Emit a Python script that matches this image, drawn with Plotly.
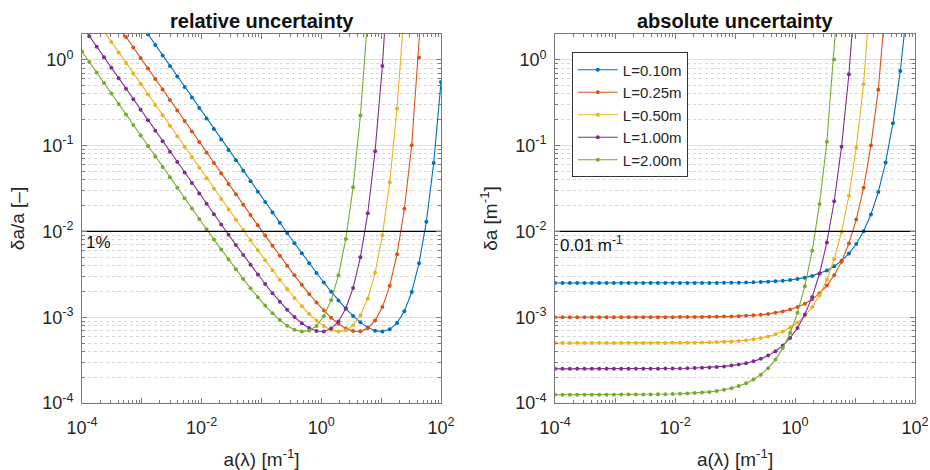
import plotly.graph_objects as go

# absorption coefficient sample grid a(lambda) [1/m]
a_vals = [1.000e-4, 1.326e-4, 1.758e-4, 2.330e-4, 3.089e-4, 4.095e-4, 5.429e-4, 7.197e-4, 9.541e-4, 1.265e-3,
          1.677e-3, 2.223e-3, 2.947e-3, 3.907e-3, 5.180e-3, 6.867e-3, 9.103e-3, 1.207e-2, 1.600e-2, 2.121e-2,
          2.812e-2, 3.728e-2, 4.942e-2, 6.551e-2, 8.685e-2, 0.1151, 0.1526, 0.2024, 0.2683, 0.3556,
          0.4715, 0.6251, 0.8287, 1.099, 1.456, 1.931, 2.560, 3.393, 4.498, 5.964,
          7.906, 10.48, 13.89, 18.42, 24.42, 32.37, 42.92, 56.90, 75.43, 100.0]

series_names = ["L=0.10m", "L=0.25m", "L=0.50m", "L=1.00m", "L=2.00m"]

# absolute uncertainty delta-a [1/m]
da_L010 = [2.500e-3] * 9 + [2.500e-3, 2.500e-3, 2.501e-3, 2.501e-3, 2.501e-3, 2.501e-3, 2.502e-3, 2.502e-3,
           2.503e-3, 2.504e-3, 2.505e-3, 2.507e-3, 2.509e-3, 2.512e-3, 2.516e-3, 2.522e-3, 2.529e-3, 2.538e-3,
           2.551e-3, 2.568e-3, 2.591e-3, 2.621e-3, 2.661e-3, 2.716e-3, 2.790e-3, 2.892e-3, 3.032e-3, 3.229e-3,
           3.510e-3, 3.920e-3, 4.539e-3, 5.512e-3, 7.131e-3, 1.003e-2, 1.577e-2, 2.874e-2, 6.367e-2, 0.1828,
           0.7397, 4.719, 55.07]
da_L025 = [1.000e-3] * 10 + [1.000e-3, 1.001e-3, 1.001e-3, 1.001e-3, 1.001e-3, 1.002e-3, 1.002e-3, 1.003e-3,
           1.004e-3, 1.005e-3, 1.007e-3, 1.009e-3, 1.012e-3, 1.017e-3, 1.022e-3, 1.029e-3, 1.039e-3, 1.052e-3,
           1.069e-3, 1.093e-3, 1.125e-3, 1.169e-3, 1.230e-3, 1.316e-3, 1.439e-3, 1.620e-3, 1.896e-3, 2.336e-3,
           3.079e-3, 4.441e-3, 7.217e-3, 1.374e-2, 3.226e-2, 0.1000, 0.4482, 3.274, 45.70, 1506.0]
da_L050 = [5.000e-4, 5.000e-4, 5.000e-4, 5.000e-4, 5.000e-4, 5.001e-4, 5.001e-4, 5.002e-4, 5.002e-4,
           5.003e-4, 5.004e-4, 5.006e-4, 5.007e-4, 5.010e-4, 5.013e-4, 5.017e-4, 5.023e-4, 5.030e-4, 5.040e-4,
           5.053e-4, 5.071e-4, 5.094e-4, 5.125e-4, 5.167e-4, 5.222e-4, 5.296e-4, 5.397e-4, 5.532e-4, 5.718e-4,
           5.973e-4, 6.329e-4, 6.834e-4, 7.567e-4, 8.660e-4, 1.036e-3, 1.313e-3, 1.798e-3, 2.728e-3, 4.740e-3,
           9.862e-3, 2.605e-2, 9.438e-2, 0.5203, 5.001, 100.4]
da_L100 = [2.500e-4, 2.500e-4, 2.500e-4, 2.501e-4, 2.501e-4, 2.501e-4, 2.501e-4, 2.502e-4, 2.502e-4, 2.503e-4,
           2.504e-4, 2.506e-4, 2.507e-4, 2.510e-4, 2.513e-4, 2.517e-4, 2.523e-4, 2.530e-4, 2.540e-4, 2.554e-4,
           2.571e-4, 2.595e-4, 2.627e-4, 2.669e-4, 2.727e-4, 2.805e-4, 2.912e-4, 3.061e-4, 3.269e-4, 3.568e-4,
           4.006e-4, 4.671e-4, 5.726e-4, 7.499e-4, 1.073e-3, 1.724e-3, 3.232e-3, 7.440e-3, 2.247e-2, 9.725e-2,
           0.6784, 8.908, 270.7]
da_L200 = [1.250e-4, 1.250e-4, 1.250e-4, 1.251e-4, 1.251e-4, 1.251e-4, 1.251e-4, 1.252e-4, 1.252e-4, 1.253e-4,
           1.254e-4, 1.256e-4, 1.257e-4, 1.260e-4, 1.263e-4, 1.267e-4, 1.273e-4, 1.281e-4, 1.291e-4, 1.304e-4,
           1.322e-4, 1.347e-4, 1.380e-4, 1.425e-4, 1.487e-4, 1.574e-4, 1.696e-4, 1.874e-4, 2.138e-4, 2.546e-4,
           3.210e-4, 4.363e-4, 6.556e-4, 1.125e-3, 2.301e-3, 5.941e-3, 2.090e-2, 0.1107, 1.010, 18.92]

abs_series = [da_L010, da_L025, da_L050, da_L100, da_L200]
colors = ["#0072BD", "#D95319", "#EDB120", "#7E2F8E", "#77AC30"]

x_tickvals = [1e-4, 1e-3, 1e-2, 1e-1, 1e0, 1e1, 1e2]
x_ticktext = ["10<sup>-4</sup>", " ", "10<sup>-2</sup>", " ", "10<sup>0</sup>", " ", "10<sup>2</sup>"]
y_tickvals = [1e-4, 1e-3, 1e-2, 1e-1, 1e0]
y_ticktext = ["10<sup>-4</sup>", "10<sup>-3</sup>", "10<sup>-2</sup>", "10<sup>-1</sup>", "10<sup>0</sup>"]
threshold = 1e-2

FONT = "Liberation Sans, Arial, Helvetica, sans-serif"
TXT = "#262626"
fig = go.Figure()

for i, (name, da, col) in enumerate(zip(series_names, abs_series, colors)):
    xs = a_vals[:len(da)]
    rel = [d / a for d, a in zip(da, xs)]
    fig.add_trace(go.Scatter(x=xs, y=rel, mode="lines+markers", name=name, showlegend=False,
                             line=dict(color=col, width=1.1), marker=dict(color=col, size=4),
                             xaxis="x", yaxis="y"))
    fig.add_trace(go.Scatter(x=xs, y=da, mode="lines+markers", name=name, showlegend=True,
                             line=dict(color=col, width=1.1), marker=dict(color=col, size=4),
                             xaxis="x2", yaxis="y2"))

# 1% / 0.01 m^-1 reference lines
for xa, ya in (("x", "y"), ("x2", "y2")):
    fig.add_trace(go.Scatter(x=[a_vals[0], a_vals[-1]], y=[threshold, threshold], mode="lines",
                             line=dict(color="#000000", width=1.2), showlegend=False,
                             hoverinfo="skip", xaxis=xa, yaxis=ya))

axis_common = dict(type="log", showline=True, linecolor="#7a7a7a", linewidth=1, mirror="ticks",
                   ticks="inside", ticklen=5, tickcolor="#7a7a7a", zeroline=False, automargin=False,
                   tickfont=dict(size=18, color=TXT, family=FONT))
xaxis_common = dict(axis_common, range=[-4, 2], tickvals=x_tickvals, ticktext=x_ticktext, showgrid=False,
                    ticklabelstandoff=8,
                    minor=dict(ticks="inside", ticklen=3, tickcolor="#7a7a7a", dtick="D1", showgrid=False),
                    title=dict(text="a(λ) [m<sup>-1</sup>]", font=dict(size=19, family=FONT, color=TXT),
                               standoff=16))
yaxis_common = dict(axis_common, range=[-4, 0.30103], tickvals=y_tickvals, ticktext=y_ticktext,
                    showgrid=True, gridcolor="#dedede", gridwidth=1, ticklabelstandoff=4,
                    minor=dict(ticks="inside", ticklen=3, tickcolor="#7a7a7a", dtick="D1", showgrid=True,
                               gridcolor="#d6d6d6", griddash="dot", gridwidth=1))

fig.update_layout(
    width=930, height=470,
    margin=dict(l=82, r=15, t=34, b=67),
    paper_bgcolor="white", plot_bgcolor="white",
    font=dict(family=FONT, color=TXT),
    xaxis=dict(xaxis_common, domain=[0, 0.431], anchor="y"),
    yaxis=dict(yaxis_common, domain=[0, 1], anchor="x",
               title=dict(text="δa/a [–]", font=dict(size=19, family=FONT, color=TXT), standoff=12)),
    xaxis2=dict(xaxis_common, domain=[0.568, 1], anchor="y2"),
    yaxis2=dict(yaxis_common, domain=[0, 1], anchor="x2",
                title=dict(text="δa [m<sup>-1</sup>]", font=dict(size=19, family=FONT, color=TXT), standoff=12)),
    legend=dict(x=0.588, y=0.95, xanchor="left", yanchor="top", bgcolor="white",
                bordercolor="#333333", borderwidth=1, font=dict(size=15, family=FONT, color=TXT),
                tracegroupgap=0, itemwidth=40),
    showlegend=True,
    annotations=[
        dict(text="<b>relative uncertainty</b>", x=0.2155, y=1.0, xref="paper", yref="paper",
             xanchor="center", yanchor="bottom", yshift=0, showarrow=False,
             font=dict(size=20, family=FONT, color="#111")),
        dict(text="<b>absolute uncertainty</b>", x=0.784, y=1.0, xref="paper", yref="paper",
             xanchor="center", yanchor="bottom", yshift=0, showarrow=False,
             font=dict(size=20, family=FONT, color="#111")),
        dict(text="1%", x=-3.96, y=-2, xref="x", yref="y", xanchor="left", yanchor="top", yshift=0,
             showarrow=False, font=dict(size=17, family=FONT, color="#111")),
        dict(text="0.01 m<sup>-1</sup>", x=-3.96, y=-2, xref="x2", yref="y2", xanchor="left", yanchor="top",
             yshift=0, showarrow=False, font=dict(size=17, family=FONT, color="#111")),
    ],
)

fig.write_html("out.html")
